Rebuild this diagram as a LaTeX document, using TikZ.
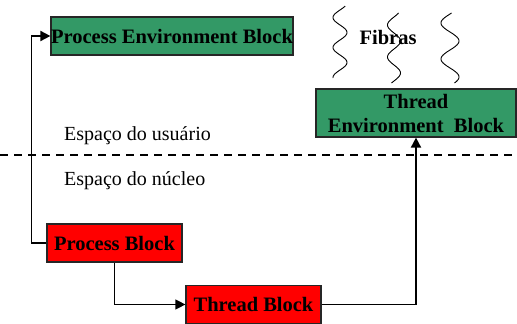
\documentclass[tikz,border=0pt]{standalone}
\usepackage{fontspec}
\setmainfont{Liberation Serif}
\usetikzlibrary{arrows.meta}
\definecolor{blkgreen}{RGB}{51,153,102}
\definecolor{blkred}{RGB}{255,0,0}
\begin{document}
\begin{tikzpicture}[x=1pt,y=-1pt,
  box/.style={draw=black!85,line width=1.2pt,inner sep=0pt,align=center,
    font=\fontsize{20.5}{24}\selectfont\bfseries},
  greenbox/.style={box,fill=blkgreen},
  redbox/.style={box,fill=blkred},
  conn/.style={line width=1.8pt,-{Triangle[length=10pt,width=10pt]}},
  thinconn/.style={line width=1.3pt,-{Triangle[length=10pt,width=10pt]}},
  wave/.style={line width=0.9pt,smooth},
  lbl/.style={font=\fontsize{20}{24}\selectfont,anchor=base west,inner sep=0pt}]
\useasboundingbox (0,0) rectangle (517,324);
% boxes
\node[greenbox,minimum width=242pt,minimum height=38pt] (peb) at (172,36) {Process Environment Block};
\node[greenbox,minimum width=200pt,minimum height=48pt] (teb) at (416,113) {Thread\\Environment\ \ Block};
\node[redbox,minimum width=135pt,minimum height=38pt] (pb) at (114.5,243) {Process Block};
\node[redbox,minimum width=135pt,minimum height=38pt] (tb) at (253.5,304.5) {Thread Block};
% fibers
\draw[wave] plot[domain=6:78,samples=80] ({340-7*sin((\x-10)*12)},{\x});
\draw[wave] plot[domain=13:83,samples=80] ({394-6.5*sin((\x-17)*11.25)},{\x});
\draw[wave] plot[domain=13:83,samples=80] ({450-9*sin((\x-14)*10)},{\x});
\node[font=\fontsize{20.5}{24}\selectfont\bfseries,inner sep=0pt] (fib) at (388,37) {Fibras};
% separator
\coordinate (dl) at (0,155);
\coordinate (dr) at (517,155);
\draw[line width=1.6pt,dash pattern=on 8pt off 6pt] (dl) -- (dr);
\node[lbl] (us) at (64,140) {Espaço do usuário};
\node[lbl] (nu) at (64,185) {Espaço do núcleo};
% connectors
\draw[conn] (pb.west) -- ++(-15,0) |- (peb.west);
\draw[thinconn] (pb.south) |- (tb.west);
\draw[conn] (tb.east) -| (teb.south);
\end{tikzpicture}
\end{document}
